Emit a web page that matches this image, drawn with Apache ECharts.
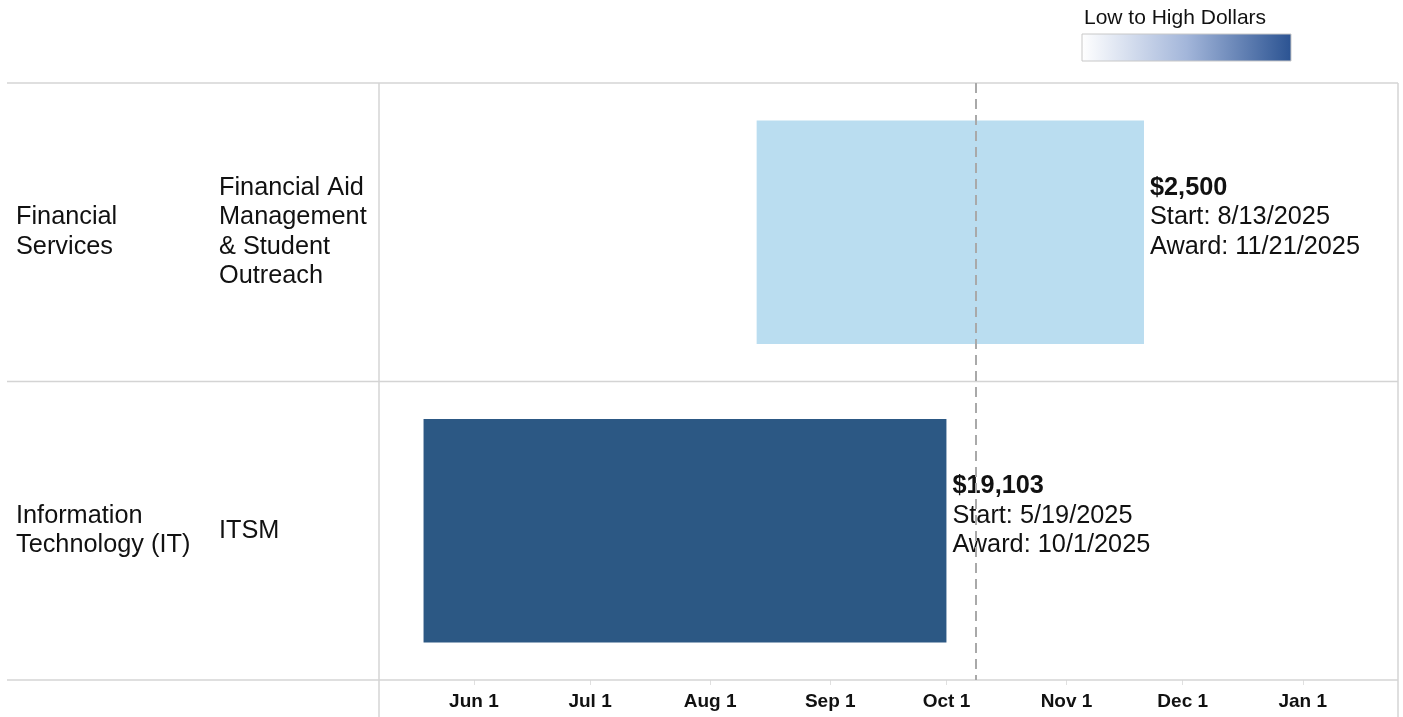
<!DOCTYPE html>
<html>
<head>
<meta charset="utf-8">
<script src="https://cdn.jsdelivr.net/npm/echarts@6/dist/echarts.min.js"></script>
<style>
html,body{margin:0;padding:0;background:#fff;}
#chart{width:1403px;height:717px;}
</style>
</head>
<body>
<div id="chart"></div>
<script>
// ---- data ----
const categories = ['Financial Services', 'Information Technology (IT)'];
const parentLabels = ['Financial\nServices', 'Information\nTechnology (IT)'];
const subLabels = ['Financial Aid\nManagement\n& Student\nOutreach', 'ITSM'];
const startDates = ['2025-08-13', '2025-05-19'];
const awardDates = ['2025-11-21', '2025-10-01'];
const amounts = [2500, 19103];
const barColors = ['#BADDF0', '#2C5884'];
const tickDates = ['2025-06-01','2025-07-01','2025-08-01','2025-09-01','2025-10-01','2025-11-01','2025-12-01','2026-01-01'];
const tickLabels = ['Jun 1','Jul 1','Aug 1','Sep 1','Oct 1','Nov 1','Dec 1','Jan 1'];
const referenceDate = '2025-10-08T12:00';
const axisMinDate = '2025-05-07T12:00';
const axisMaxDate = '2026-01-25T14:00';
const legendTitle = 'Low to High Dollars';

function toMs(s){
  const [d, t] = s.split('T');
  const [y, m, dd] = d.split('-').map(Number);
  let h = 0, mi = 0;
  if (t) { [h, mi] = t.split(':').map(Number); }
  return Date.UTC(y, m - 1, dd, h, mi);
}
function fmtDate(s){
  const [y, m, d] = s.split('-').map(Number);
  return m + '/' + d + '/' + y;
}
function fmtMoney(v){
  return '$' + v.toLocaleString('en-US');
}

const tickValues = tickDates.map(toMs);
const seriesData = categories.map((c, i) => ({
  value: [i, toMs(startDates[i]), toMs(awardDates[i]), amounts[i]],
  itemStyle: { color: barColors[i] },
  start: startDates[i], award: awardDates[i]
}));

const FONT = '"Liberation Sans", Arial, sans-serif';
const chart = echarts.init(document.getElementById('chart'), null, { renderer: 'canvas' });

const gridLeft = 379, gridRight = 5, gridTop = 83, gridBottom = 37;
const W = 1403, H = 717;
const lineColor = '#d4d4d4';
const FS = 25.3, LH = 29.5;

chart.setOption({
  animation: false,
  backgroundColor: '#ffffff',
  grid: { left: gridLeft, right: gridRight, top: gridTop, bottom: gridBottom, containLabel: false },
  xAxis: {
    type: 'value',
    min: toMs(axisMinDate),
    max: toMs(axisMaxDate),
    axisLine: { show: false },
    splitLine: { show: false },
    axisTick: { show: true, customValues: tickValues, length: 5, lineStyle: { color: '#e0e0e0' } },
    axisLabel: {
      customValues: tickValues,
      margin: 12,
      fontFamily: FONT, fontSize: 19, fontWeight: 'bold', color: '#111',
      formatter: function (v) {
        const idx = tickValues.indexOf(v);
        return idx >= 0 ? tickLabels[idx] : '';
      }
    }
  },
  yAxis: [
    {
      type: 'category', data: categories, inverse: true,
      axisLine: { show: false }, axisTick: { show: false }, splitLine: { show: false },
      axisLabel: {
        align: 'left', margin: gridLeft - 219,
        fontFamily: FONT, fontSize: FS, lineHeight: LH, color: '#111',
        formatter: function (v) { return subLabels[categories.indexOf(v)]; }
      }
    },
    {
      type: 'category', data: categories, inverse: true, position: 'left',
      axisLine: { show: false }, axisTick: { show: false }, splitLine: { show: false },
      axisLabel: {
        align: 'left', margin: gridLeft - 16,
        fontFamily: FONT, fontSize: FS, lineHeight: LH, color: '#111',
        formatter: function (v) { return parentLabels[categories.indexOf(v)]; }
      }
    }
  ],
  graphic: [
    { type: 'line', shape: { x1: 7, y1: gridTop, x2: W - gridRight, y2: gridTop }, style: { stroke: lineColor, lineWidth: 1.5 }, z: 1 },
    { type: 'line', shape: { x1: 7, y1: (gridTop + H - gridBottom) / 2, x2: W - gridRight, y2: (gridTop + H - gridBottom) / 2 }, style: { stroke: lineColor, lineWidth: 1.5 }, z: 1 },
    { type: 'line', shape: { x1: 7, y1: H - gridBottom, x2: W - gridRight, y2: H - gridBottom }, style: { stroke: lineColor, lineWidth: 1.5 }, z: 1 },
    { type: 'line', shape: { x1: gridLeft, y1: gridTop, x2: gridLeft, y2: H }, style: { stroke: lineColor, lineWidth: 1.5 }, z: 1 },
    { type: 'line', shape: { x1: W - gridRight, y1: gridTop, x2: W - gridRight, y2: H }, style: { stroke: lineColor, lineWidth: 1.5 }, z: 1 },
    { type: 'text', left: 1084, top: 8, style: { text: legendTitle, font: '21px ' + FONT, fill: '#111' } },
    { type: 'rect', shape: { x: 1082, y: 34, width: 209, height: 27 },
      style: {
        fill: { type: 'linear', x: 0, y: 0, x2: 1, y2: 0,
          colorStops: [{ offset: 0, color: '#ffffff' }, { offset: 0.5, color: '#a3b6da' }, { offset: 1, color: '#2b5392' }] },
        stroke: '#c8c8c8', lineWidth: 1
      } }
  ],
  series: [{
    type: 'custom',
    xAxisIndex: 0, yAxisIndex: 0,
    encode: { x: [1, 2], y: 0 },
    data: seriesData,
    renderItem: function (params, api) {
      const cat = api.value(0);
      const p0 = api.coord([api.value(1), cat]);
      const p1 = api.coord([api.value(2), cat]);
      const h = api.size([0, 1])[1] * 0.748;
      const d = seriesData[params.dataIndex];
      return {
        type: 'group',
        children: [
          { type: 'rect', shape: { x: p0[0], y: p0[1] - h / 2, width: p1[0] - p0[0], height: h },
            style: { fill: d.itemStyle.color } },
          { type: 'text', x: p1[0] + 6, y: p0[1] - 15,
            style: {
              text: '{b|' + fmtMoney(api.value(3)) + '}\n{n|Start: ' + fmtDate(d.start) + '}\n{n|Award: ' + fmtDate(d.award) + '}',
              verticalAlign: 'middle', align: 'left',
              rich: {
                b: { fontFamily: FONT, fontSize: FS, fontWeight: 'bold', lineHeight: LH, fill: '#111' },
                n: { fontFamily: FONT, fontSize: FS, lineHeight: LH, fill: '#111' }
              }
            } }
        ]
      };
    },
    markLine: {
      silent: true, symbol: 'none', label: { show: false },
      lineStyle: { color: '#a9a9a9', type: [10, 6], width: 2 },
      data: [{ xAxis: toMs(referenceDate) }],
      z: 10
    },
    z: 2
  }]
});
</script>
</body>
</html>
